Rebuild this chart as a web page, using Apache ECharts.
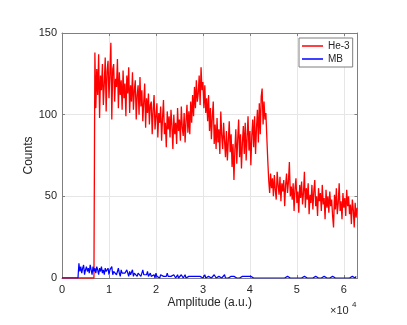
<!DOCTYPE html>
<html>
<head>
<meta charset="utf-8">
<script src="https://cdn.jsdelivr.net/npm/echarts@6/dist/echarts.min.js"></script>
<style>
  html, body { margin: 0; padding: 0; background: #fff; }
  #chart { width: 407px; height: 325px; }
</style>
</head>
<body>
<div id="chart"></div>
<script>
// bin width of the histograms (amplitude units)
const binWidth = 200;

// He-3 detector: zero up to the threshold, counts from heStart on
const heThreshold = 6800;
const heStart = 7000;
const heCounts = [
  138, 104, 128, 112, 137, 98, 124, 115, 131, 106,
  119, 135, 102, 127, 133, 110, 125, 144, 97, 128,
  131, 108, 122, 117, 134, 104, 126, 112, 121, 103,
  127, 110, 119, 99, 124, 113, 129, 101, 118, 108,
  126, 103, 115, 121, 97, 112, 118, 100, 123, 105,
  115, 96, 108, 119, 92, 110, 101, 113, 94, 106,
  108, 88, 103, 112, 91, 99, 107, 86, 101, 95,
  105, 84, 98, 109, 88, 95, 80, 102, 91, 99,
  86, 103, 93, 79, 100, 88, 95, 82, 104, 90,
  97, 84, 105, 92, 87, 101, 83, 96, 106, 89,
  102, 88, 108, 95, 112, 99, 117, 104, 121, 108,
  113, 124, 106, 129, 115, 120, 104, 118, 101, 110,
  96, 112, 90, 104, 85, 99, 108, 82, 94, 79,
  98, 83, 91, 76, 102, 87, 79, 95, 84, 74,
  90, 72, 84, 96, 77, 88, 68, 82, 60, 79,
  91, 70, 85, 97, 74, 88, 67, 83, 93, 76,
  95, 72, 86, 99, 78, 90, 69, 87, 97, 80,
  99, 76, 92, 103, 83, 107, 88, 111, 116, 94,
  108, 97, 101, 86, 72, 60, 52, 64, 55, 61,
  50, 63, 54, 48, 65, 57, 51, 62, 47, 58,
  53, 60, 44, 57, 64, 52, 59, 71, 50, 56,
  48, 58, 41, 55, 61, 46, 53, 40, 57, 49,
  59, 45, 52, 65, 43, 55, 48, 58, 39, 51,
  46, 57, 42, 53, 60, 44, 50, 38, 55, 47,
  52, 41, 57, 45, 49, 36, 54, 43, 50, 40,
  53, 44, 48, 38, 31, 51, 42, 55, 39, 46,
  58, 41, 47, 36, 52, 43, 49, 38, 54, 44,
  50, 39, 45, 33, 48, 42, 31, 46, 37, 43
];

// MB detector: zero up to the threshold, counts from mbStart on
const mbThreshold = 3400;
const mbStart = 3600;
const mbCounts = [
  9, 4, 7, 3, 6, 8, 2, 5, 7, 4,
  6, 3, 8, 5, 2, 7, 4, 6, 3, 7,
  5, 2, 6, 4, 7, 3, 5, 2, 6, 4,
  3, 6, 2, 5, 4, 7, 2, 4, 3, 5,
  2, 4, 6, 3, 1, 5, 3, 2, 4, 3,
  2, 5, 3, 1, 4, 2, 3, 5, 1, 3,
  2, 4, 1, 3, 2, 4, 1, 2, 5, 2,
  3, 1, 2, 4, 1, 2, 3, 1, 2, 1,
  2, 0, 3, 1, 2, 1, 0, 2, 3, 1,
  1, 2, 0, 1, 3, 1, 0, 2, 1, 1,
  0, 2, 1, 0, 1, 2, 0, 1, 0, 2,
  1, 0, 1, 2, 0, 1, 0, 1, 2, 0,
  1, 0, 2, 1, 0, 1, 1, 0, 2, 1,
  0, 1, 0, 1, 2, 0, 1, 0, 1, 0,
  1, 0, 1, 0, 2, 1, 0, 1, 0, 1,
  0, 1, 0, 0, 1, 2, 0, 1, 0, 0,
  1, 0, 1, 0, 0, 1, 0, 2, 0, 1,
  0, 0, 1, 0, 1, 0, 0, 1, 0, 0,
  1, 0, 0, 1, 0, 1, 0, 0, 1, 0,
  0, 1, 0, 0, 1, 0, 1, 0, 0, 1,
  0, 0, 1, 0, 0, 1, 0, 0, 0, 1,
  0, 1, 0, 0, 1, 0, 0, 0, 1, 0,
  0, 0, 1, 0, 0, 0, 1, 0, 0, 1,
  0, 0, 0, 1, 0, 0, 1, 0, 0, 0,
  1, 0, 0, 0, 1, 0, 0, 0, 1, 0,
  0, 0, 1, 0, 0, 0, 0, 1, 0, 0,
  0, 1, 0, 0, 0, 1, 0, 0, 0, 0,
  1, 0, 0, 0, 0, 1, 0, 0, 1, 0,
  0, 0, 0, 1, 0, 0, 0, 1, 0, 0,
  0, 1, 0, 0, 0, 1, 0
];

const xMax = 62900;
const xTicks = [0, 10000, 20000, 30000, 40000, 50000, 60000];
const yTicks = [0, 50, 100, 150];

const toPairs = (threshold, start, counts) => {
  const pts = [[0, 0], [threshold, 0]];
  counts.forEach((c, i) => pts.push([start + i * binWidth, c]));
  return pts;
};

const axisGray = '#7f7f7f';
const textDark = '#262626';
const font = 'Liberation Sans, Arial, Helvetica, sans-serif';

const chart = echarts.init(document.getElementById('chart'), null, { renderer: 'canvas' });

const option = {
  animation: false,
  backgroundColor: '#fff',
  grid: { left: 62, right: 49.5, top: 33, bottom: 47, containLabel: false },
  legend: {
    data: ['He-3', 'MB'],
    orient: 'vertical',
    left: 299,
    top: 38,
    icon: 'rect',
    itemWidth: 21,
    itemHeight: 1.5,
    itemGap: 3,
    padding: [3, 3, 3, 3],
    borderColor: axisGray,
    borderWidth: 1,
    backgroundColor: '#fff',
    textStyle: { fontSize: 10, color: textDark, fontFamily: font }
  },
  xAxis: [
    {
      type: 'value',
      min: 0,
      max: xMax,
      interval: 10000,
      name: 'Amplitude (a.u.)',
      nameLocation: 'middle',
      nameGap: 19,
      nameMoveOverlap: false,
      nameTextStyle: { fontSize: 12, color: textDark, fontFamily: font },
      axisLine: { show: true, onZero: false, lineStyle: { color: axisGray, width: 1 } },
      axisTick: { show: true, inside: true, length: 3, lineStyle: { color: axisGray } },
      axisLabel: {
        margin: 6,
        fontSize: 11,
        color: textDark,
        fontFamily: font,
        showMaxLabel: false,
        formatter: v => (xTicks.includes(v) ? String(v / 10000) : '')
      },
      splitLine: { show: true, lineStyle: { color: '#e6e6e6', width: 1 } }
    },
    {
      type: 'value',
      position: 'top',
      min: 0,
      max: xMax,
      interval: 10000,
      axisLine: { show: true, onZero: false, lineStyle: { color: axisGray, width: 1 } },
      axisTick: { show: true, inside: true, length: 3, lineStyle: { color: axisGray } },
      axisLabel: { show: false },
      splitLine: { show: false }
    }
  ],
  yAxis: [
    {
      type: 'value',
      min: 0,
      max: 150,
      interval: 50,
      name: 'Counts',
      nameLocation: 'middle',
      nameGap: 27,
      nameMoveOverlap: false,
      nameTextStyle: { fontSize: 12, color: textDark, fontFamily: font },
      axisLine: { show: true, onZero: false, lineStyle: { color: axisGray, width: 1 } },
      axisTick: { show: true, inside: true, length: 3, lineStyle: { color: axisGray } },
      axisLabel: {
        margin: 5,
        fontSize: 11,
        color: textDark,
        fontFamily: font,
        formatter: v => (yTicks.includes(v) ? String(v) : '')
      },
      splitLine: { show: true, lineStyle: { color: '#e6e6e6', width: 1 } }
    },
    {
      type: 'value',
      position: 'right',
      min: 0,
      max: 150,
      interval: 50,
      axisLine: { show: true, onZero: false, lineStyle: { color: axisGray, width: 1 } },
      axisTick: { show: true, inside: true, length: 3, lineStyle: { color: axisGray } },
      axisLabel: { show: false },
      splitLine: { show: false }
    }
  ],
  graphic: [
    {
      type: 'text',
      left: 330,
      top: 305,
      style: { text: '×10', fontSize: 11, fill: textDark, fontFamily: font }
    },
    {
      type: 'text',
      left: 352,
      top: 301,
      style: { text: '4', fontSize: 8, fill: textDark, fontFamily: font }
    }
  ],
  series: [
    {
      name: 'He-3',
      type: 'line',
      data: toPairs(heThreshold, heStart, heCounts),
      showSymbol: false,
      sampling: 'none',
      lineStyle: { color: '#ff0000', width: 1.3 },
      itemStyle: { color: '#ff0000' },
      z: 2
    },
    {
      name: 'MB',
      type: 'line',
      data: toPairs(mbThreshold, mbStart, mbCounts),
      showSymbol: false,
      sampling: 'none',
      lineStyle: { color: '#0000ff', width: 1.2 },
      itemStyle: { color: '#0000ff' },
      z: 3
    }
  ]
};

chart.setOption(option);
</script>
</body>
</html>
